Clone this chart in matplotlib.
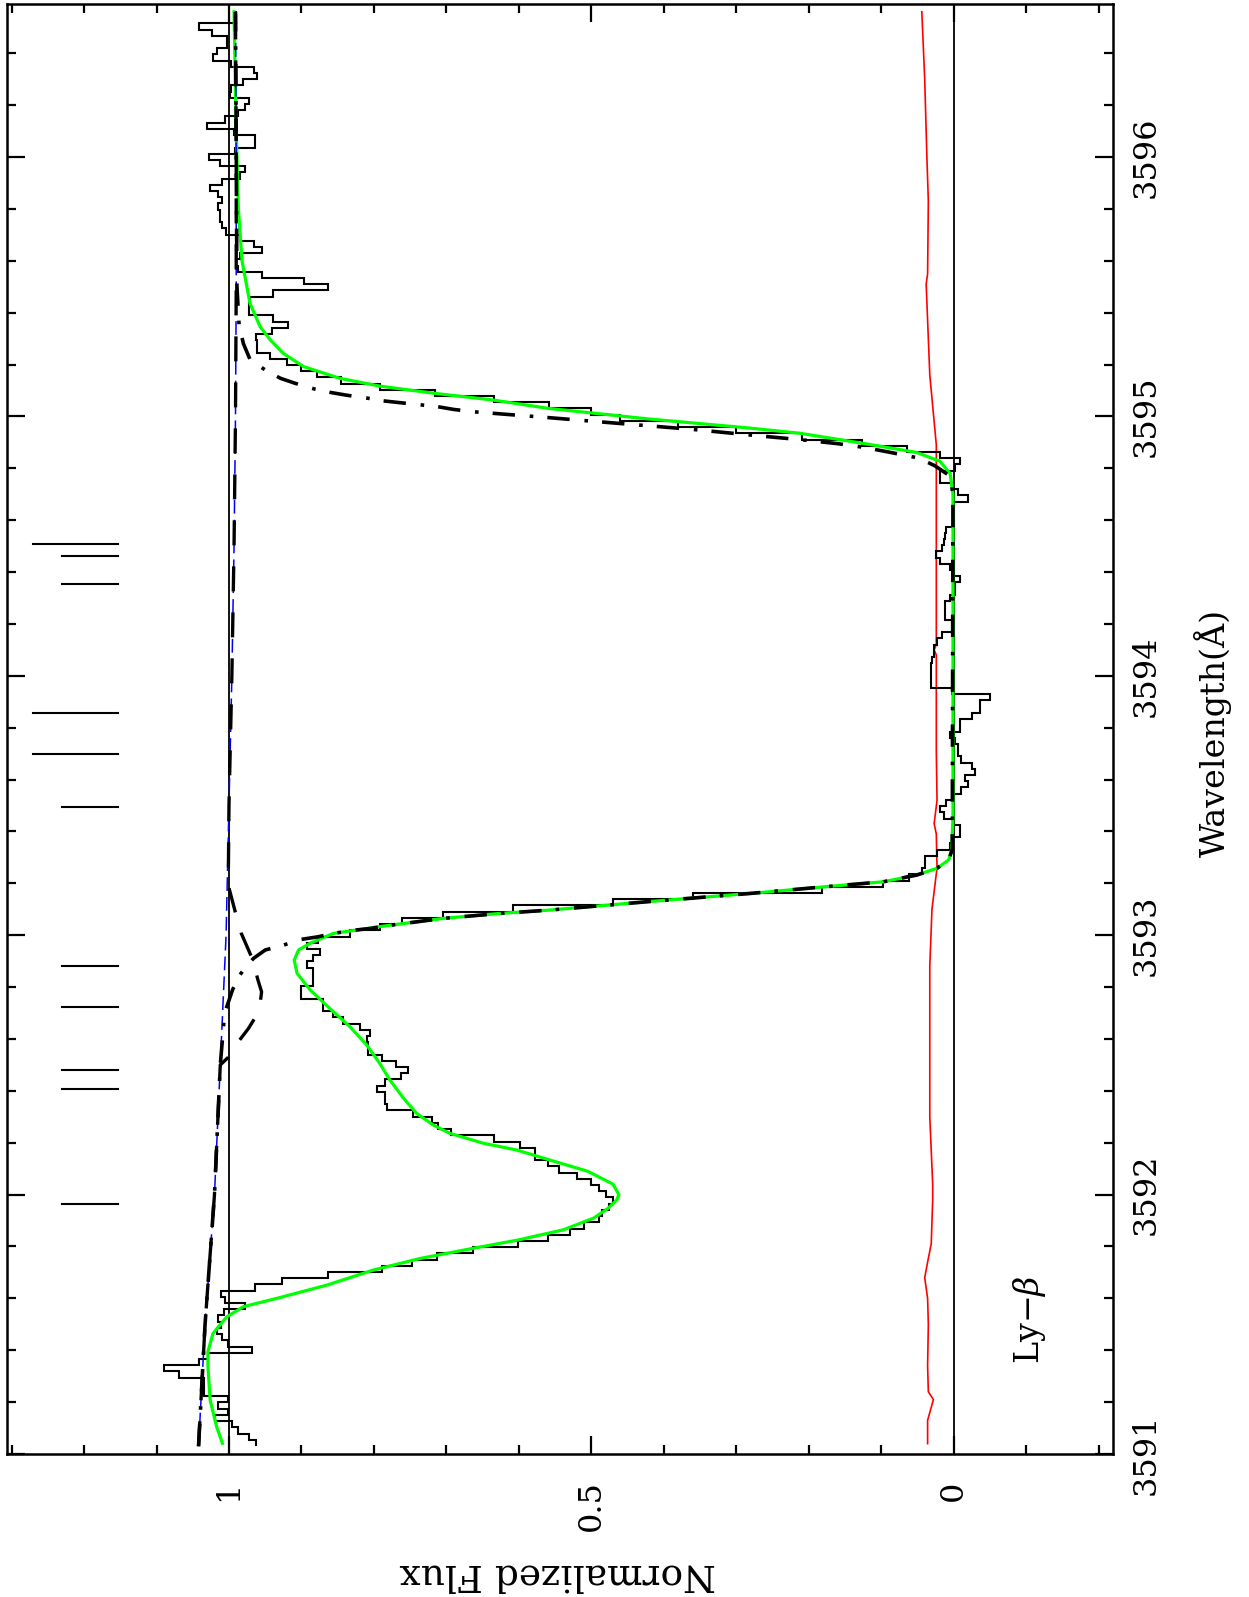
import numpy as np
import matplotlib
matplotlib.use("Agg")
import matplotlib.pyplot as plt
from matplotlib.ticker import MultipleLocator, FixedLocator, FuncFormatter

plt.rcParams['font.family'] = ['DejaVu Serif']
plt.rcParams['mathtext.fontset'] = 'dejavuserif'

# ---------------- data ----------------
# observed spectrum (histogram), uniform pixels
pix_start = 3591.031
pix_width = 0.02395
spec_flux = [
    0.963, 0.972, 0.987, 0.996, 1.019, 1.001, 1.015, 1.001, 1.035, 1.035,
    1.035, 1.069, 1.089, 1.042, 1.029, 0.968, 1.001, 1.010, 1.017, 1.011,
    1.015, 1.007, 0.978, 1.006, 1.011, 0.964, 0.927, 0.863, 0.789, 0.748,
    0.713, 0.663, 0.601, 0.560, 0.530, 0.510, 0.490, 0.485, 0.475, 0.470,
    0.480, 0.490, 0.500, 0.520, 0.545, 0.560, 0.578, 0.578, 0.598, 0.635,
    0.693, 0.711, 0.720, 0.746, 0.782, 0.785, 0.785, 0.796, 0.785, 0.762,
    0.753, 0.769, 0.789, 0.808, 0.808, 0.810, 0.805, 0.819, 0.842, 0.857,
    0.870, 0.870, 0.900, 0.900, 0.884, 0.884, 0.884, 0.893, 0.884, 0.874,
    0.893, 0.877, 0.833, 0.792, 0.761, 0.704, 0.608, 0.470, 0.360, 0.182,
    0.097, 0.061, 0.044, 0.040, 0.040, 0.023, 0.005, 0.003, -0.008, -0.008,
    0.000, 0.014, 0.019, 0.010, 0.000, -0.010, -0.020, -0.015, -0.030, -0.025,
    -0.010, -0.006, -0.006, -0.002, 0.005, -0.009, -0.009, -0.025, -0.036, -0.036,
    -0.050, 0.003, 0.031, 0.031, 0.031, 0.031, 0.030, 0.027, 0.027, 0.023,
    0.016, 0.003, 0.003, 0.012, 0.012, 0.012, 0.005, -0.002, -0.002, -0.009,
    0.000, 0.005, 0.019, 0.025, 0.016, 0.014, 0.012, 0.010, 0.000, 0.000,
    0.000, 0.000, -0.020, -0.006, 0.003, 0.019, 0.019, -0.002, -0.009, 0.019,
    0.065, 0.127, 0.210, 0.300, 0.380, 0.460, 0.500, 0.559, 0.635, 0.716,
    0.792, 0.846, 0.879, 0.900, 0.920, 0.943, 0.961, 0.962, 0.963, 0.941,
    0.918, 0.939, 0.972, 0.972, 0.971, 0.939, 0.863, 0.897, 0.954, 0.987,
    0.990, 0.985, 0.955, 0.966, 0.985, 1.004, 1.010, 1.012, 1.012, 1.015,
    1.010, 1.015, 1.026, 1.010, 0.985, 0.978, 1.012, 1.028, 0.992, 0.964,
    0.964, 0.993, 1.031, 1.005, 0.987, 0.978, 0.972, 0.999, 0.997, 0.980,
    0.961, 0.966, 0.997, 1.022, 1.017, 1.003, 1.003, 1.024, 1.042, 0.990,
    0.990,
]

# total fit (green)
fit_wav = [3591.041, 3591.105, 3591.208, 3591.337, 3591.395, 3591.465, 3591.529,
           3591.568, 3591.600, 3591.651, 3591.709, 3591.754, 3591.793, 3591.825,
           3591.864, 3591.909, 3591.947, 3591.979, 3592.000, 3592.040, 3592.090,
           3592.133, 3592.172, 3592.198, 3592.236, 3592.268, 3592.313, 3592.371,
           3592.442, 3592.506, 3592.577, 3592.647, 3592.718, 3592.789, 3592.853,
           3592.904, 3592.943, 3592.969, 3593.007, 3593.035, 3593.065, 3593.084,
           3593.097, 3593.130, 3593.161, 3593.184, 3593.206, 3593.232, 3593.258,
           3593.290, 3593.328, 3593.450, 3594.700, 3594.780, 3594.827, 3594.861,
           3594.894, 3594.935, 3594.955, 3594.990, 3595.031, 3595.063, 3595.089,
           3595.117, 3595.147, 3595.192, 3595.243, 3595.295, 3595.346, 3595.436,
           3595.600, 3595.800, 3596.100, 3596.560]
fit_flux = [1.009, 1.017, 1.026, 1.029, 1.029, 1.022, 1.003,
            0.980, 0.934, 0.865, 0.801, 0.736, 0.663, 0.601,
            0.539, 0.497, 0.477, 0.465, 0.462, 0.470, 0.505,
            0.557, 0.603, 0.649, 0.695, 0.718, 0.741, 0.759,
            0.778, 0.792, 0.810, 0.833, 0.861, 0.888, 0.906,
            0.910, 0.904, 0.888, 0.856, 0.787, 0.704, 0.626,
            0.557, 0.419, 0.281, 0.189, 0.097, 0.051, 0.023,
            0.007, 0.003, 0.001, 0.001, 0.005, 0.019, 0.051,
            0.120, 0.212, 0.281, 0.420, 0.559, 0.635, 0.716,
            0.792, 0.847, 0.897, 0.925, 0.943, 0.957, 0.971,
            0.982, 0.987, 0.990, 0.993]

# continuum (blue dashed)
cont_wav = [3591.03, 3591.50, 3592.00, 3592.50, 3593.00, 3593.50, 3594.00,
            3594.50, 3595.00, 3595.50, 3596.00, 3596.56]
cont_flux = [1.042, 1.033, 1.020, 1.012, 1.004, 1.000, 0.996,
             0.993, 0.991, 0.990, 0.990, 0.991]

# main saturated component (dash-dot)
dd_wav = [3591.03, 3591.50, 3592.00, 3592.50, 3592.700, 3592.790, 3592.847,
          3592.880, 3592.911, 3592.943, 3592.960, 3592.984, 3592.994, 3593.007,
          3593.019, 3593.026, 3593.035, 3593.065, 3593.084, 3593.097, 3593.130,
          3593.161, 3593.184, 3593.206, 3593.232, 3593.258, 3593.290, 3593.330,
          3594.700, 3594.770, 3594.810, 3594.840, 3594.860, 3594.880, 3594.895,
          3594.910, 3594.926, 3594.950, 3594.975, 3594.997, 3595.008, 3595.018,
          3595.027, 3595.038, 3595.053, 3595.060, 3595.070, 3595.082, 3595.093,
          3595.105, 3595.128, 3595.147, 3595.179, 3595.220, 3595.280, 3595.350,
          3595.500, 3596.000, 3596.560]
dd_flux = [1.042, 1.033, 1.020, 1.012, 1.006, 0.995, 0.985,
           0.976, 0.966, 0.950, 0.927, 0.900, 0.877, 0.856,
           0.828, 0.805, 0.787, 0.704, 0.626, 0.557, 0.419,
           0.281, 0.189, 0.097, 0.051, 0.023, 0.007, 0.002,
           0.001, 0.005, 0.026, 0.049, 0.085, 0.122, 0.160,
           0.210, 0.272, 0.360, 0.470, 0.566, 0.617, 0.663,
           0.690, 0.713, 0.764, 0.787, 0.808, 0.838, 0.861,
           0.881, 0.909, 0.929, 0.950, 0.971, 0.980, 0.986,
           0.989, 0.990, 0.991]

# weak component (dashed)
da_wav = [3591.03, 3591.50, 3592.00, 3592.50, 3592.532, 3592.564, 3592.641,
          3592.700, 3592.737, 3592.782, 3592.827, 3592.870, 3592.904, 3592.917,
          3593.007, 3593.097, 3593.193, 3593.500, 3594.000, 3594.500, 3595.000,
          3595.500, 3596.000, 3596.560]
da_flux = [1.042, 1.033, 1.020, 1.012, 1.000, 0.994, 0.973,
           0.960, 0.957, 0.955, 0.960, 0.964, 0.966, 0.969,
           0.983, 0.992, 1.001, 1.000, 0.996, 0.993, 0.991,
           0.990, 0.990, 0.991]

# error spectrum (red)
err_wav = [3591.04, 3591.13, 3591.21, 3591.24, 3591.34, 3591.50, 3591.60,
           3591.68, 3591.74, 3591.81, 3591.98, 3592.04, 3592.30, 3592.62,
           3592.88, 3593.10, 3593.26, 3593.39, 3593.43, 3593.52, 3593.71,
           3594.08, 3594.10, 3594.12, 3594.89, 3595.16, 3595.51, 3595.55,
           3595.83, 3596.00, 3596.30, 3596.56]
err_flux = [0.036, 0.036, 0.028, 0.035, 0.036, 0.035, 0.036,
            0.040, 0.036, 0.031, 0.029, 0.029, 0.033, 0.033,
            0.033, 0.030, 0.023, 0.024, 0.027, 0.023, 0.024,
            0.024, 0.027, 0.024, 0.024, 0.033, 0.038, 0.036,
            0.035, 0.037, 0.040, 0.044]

# component positions (tick marks)
comp_wav = [3591.964, 3592.407, 3592.480, 3592.722, 3592.881, 3593.495,
            3593.699, 3593.855, 3594.354, 3594.463, 3594.509]
comp_long = [False, False, False, False, False, False,
             True, True, False, False, True]

flux_ticks = [0.0, 0.5, 1.0]
wav_ticks = [3591, 3592, 3593, 3594, 3595, 3596]

# ---------------- figure ----------------
W, H = 1249, 1597
fig = plt.figure(figsize=(W / 100, H / 100), dpi=100)
ax = fig.add_axes([6.7 / W, 1 - 1454 / H, (1113 - 6.7) / W, (1454 - 4) / H])
ax.set_xlim(1.3067, -0.2198)
ax.set_ylim(3591.0, 3596.59)

edges = pix_start + pix_width * np.arange(len(spec_flux) + 1)

ax.axvline(1.0, color='black', lw=1.3, zorder=1)
ax.axvline(0.0, color='black', lw=1.3, zorder=1)
ax.plot(err_flux, err_wav, color='red', lw=1.2, zorder=2)
ax.stairs(spec_flux, edges, orientation='horizontal', baseline=None,
          color='black', lw=1.5, zorder=3)
ax.plot(fit_flux, fit_wav, color='#00ff00', lw=2.3, zorder=4)
ax.plot(cont_flux, cont_wav, color='blue', lw=1.1, dashes=(9, 4), zorder=5)
ax.plot(da_flux, da_wav, color='black', lw=2.4, dashes=(7.5, 6.3), zorder=6)
ax.plot(dd_flux, dd_wav, color='black', lw=2.6,
        linestyle=(0, (6.2, 3.9, 1.0, 4.1)), zorder=7)

for w, lg in zip(comp_wav, comp_long):
    ax.plot([1.153, 1.27 if lg else 1.23], [w, w], color='black', lw=1.5)

ax.text(-0.105, 3591.52, r'Ly$-\beta$', rotation=90, ha='center', va='center',
        fontsize=24)

# ticks
ax.xaxis.set_major_locator(FixedLocator(flux_ticks))
ax.xaxis.set_minor_locator(MultipleLocator(0.1))
ax.xaxis.set_major_formatter(FuncFormatter(lambda v, p: '%g' % v))
ax.yaxis.set_major_locator(FixedLocator(wav_ticks))
ax.yaxis.set_minor_locator(MultipleLocator(0.2))
ax.yaxis.set_major_formatter(FuncFormatter(lambda v, p: '%d' % round(v)))
ax.tick_params(which='both', direction='in', top=True, bottom=True,
               left=True, right=True, width=1.6, labelsize=23)
ax.tick_params(which='major', length=13)
ax.tick_params(which='minor', length=6.5)
ax.tick_params(axis='x', labelrotation=90, pad=19)
ax.tick_params(axis='y', labelleft=False, labelright=True, labelrotation=90,
               pad=13)
for lbl in ax.get_yticklabels():
    lbl.set_va('center')
for s in ax.spines.values():
    s.set_linewidth(1.8)

fig.text(1213 / W, 1 - 733 / H, 'Wavelength(Å)', rotation=90,
         ha='center', va='center', fontsize=24)
fig.text(558 / W, 1 - 1574 / H, 'Normalized Flux', rotation=180,
         ha='center', va='center', fontsize=27)

fig.savefig('out.png', dpi=100)
